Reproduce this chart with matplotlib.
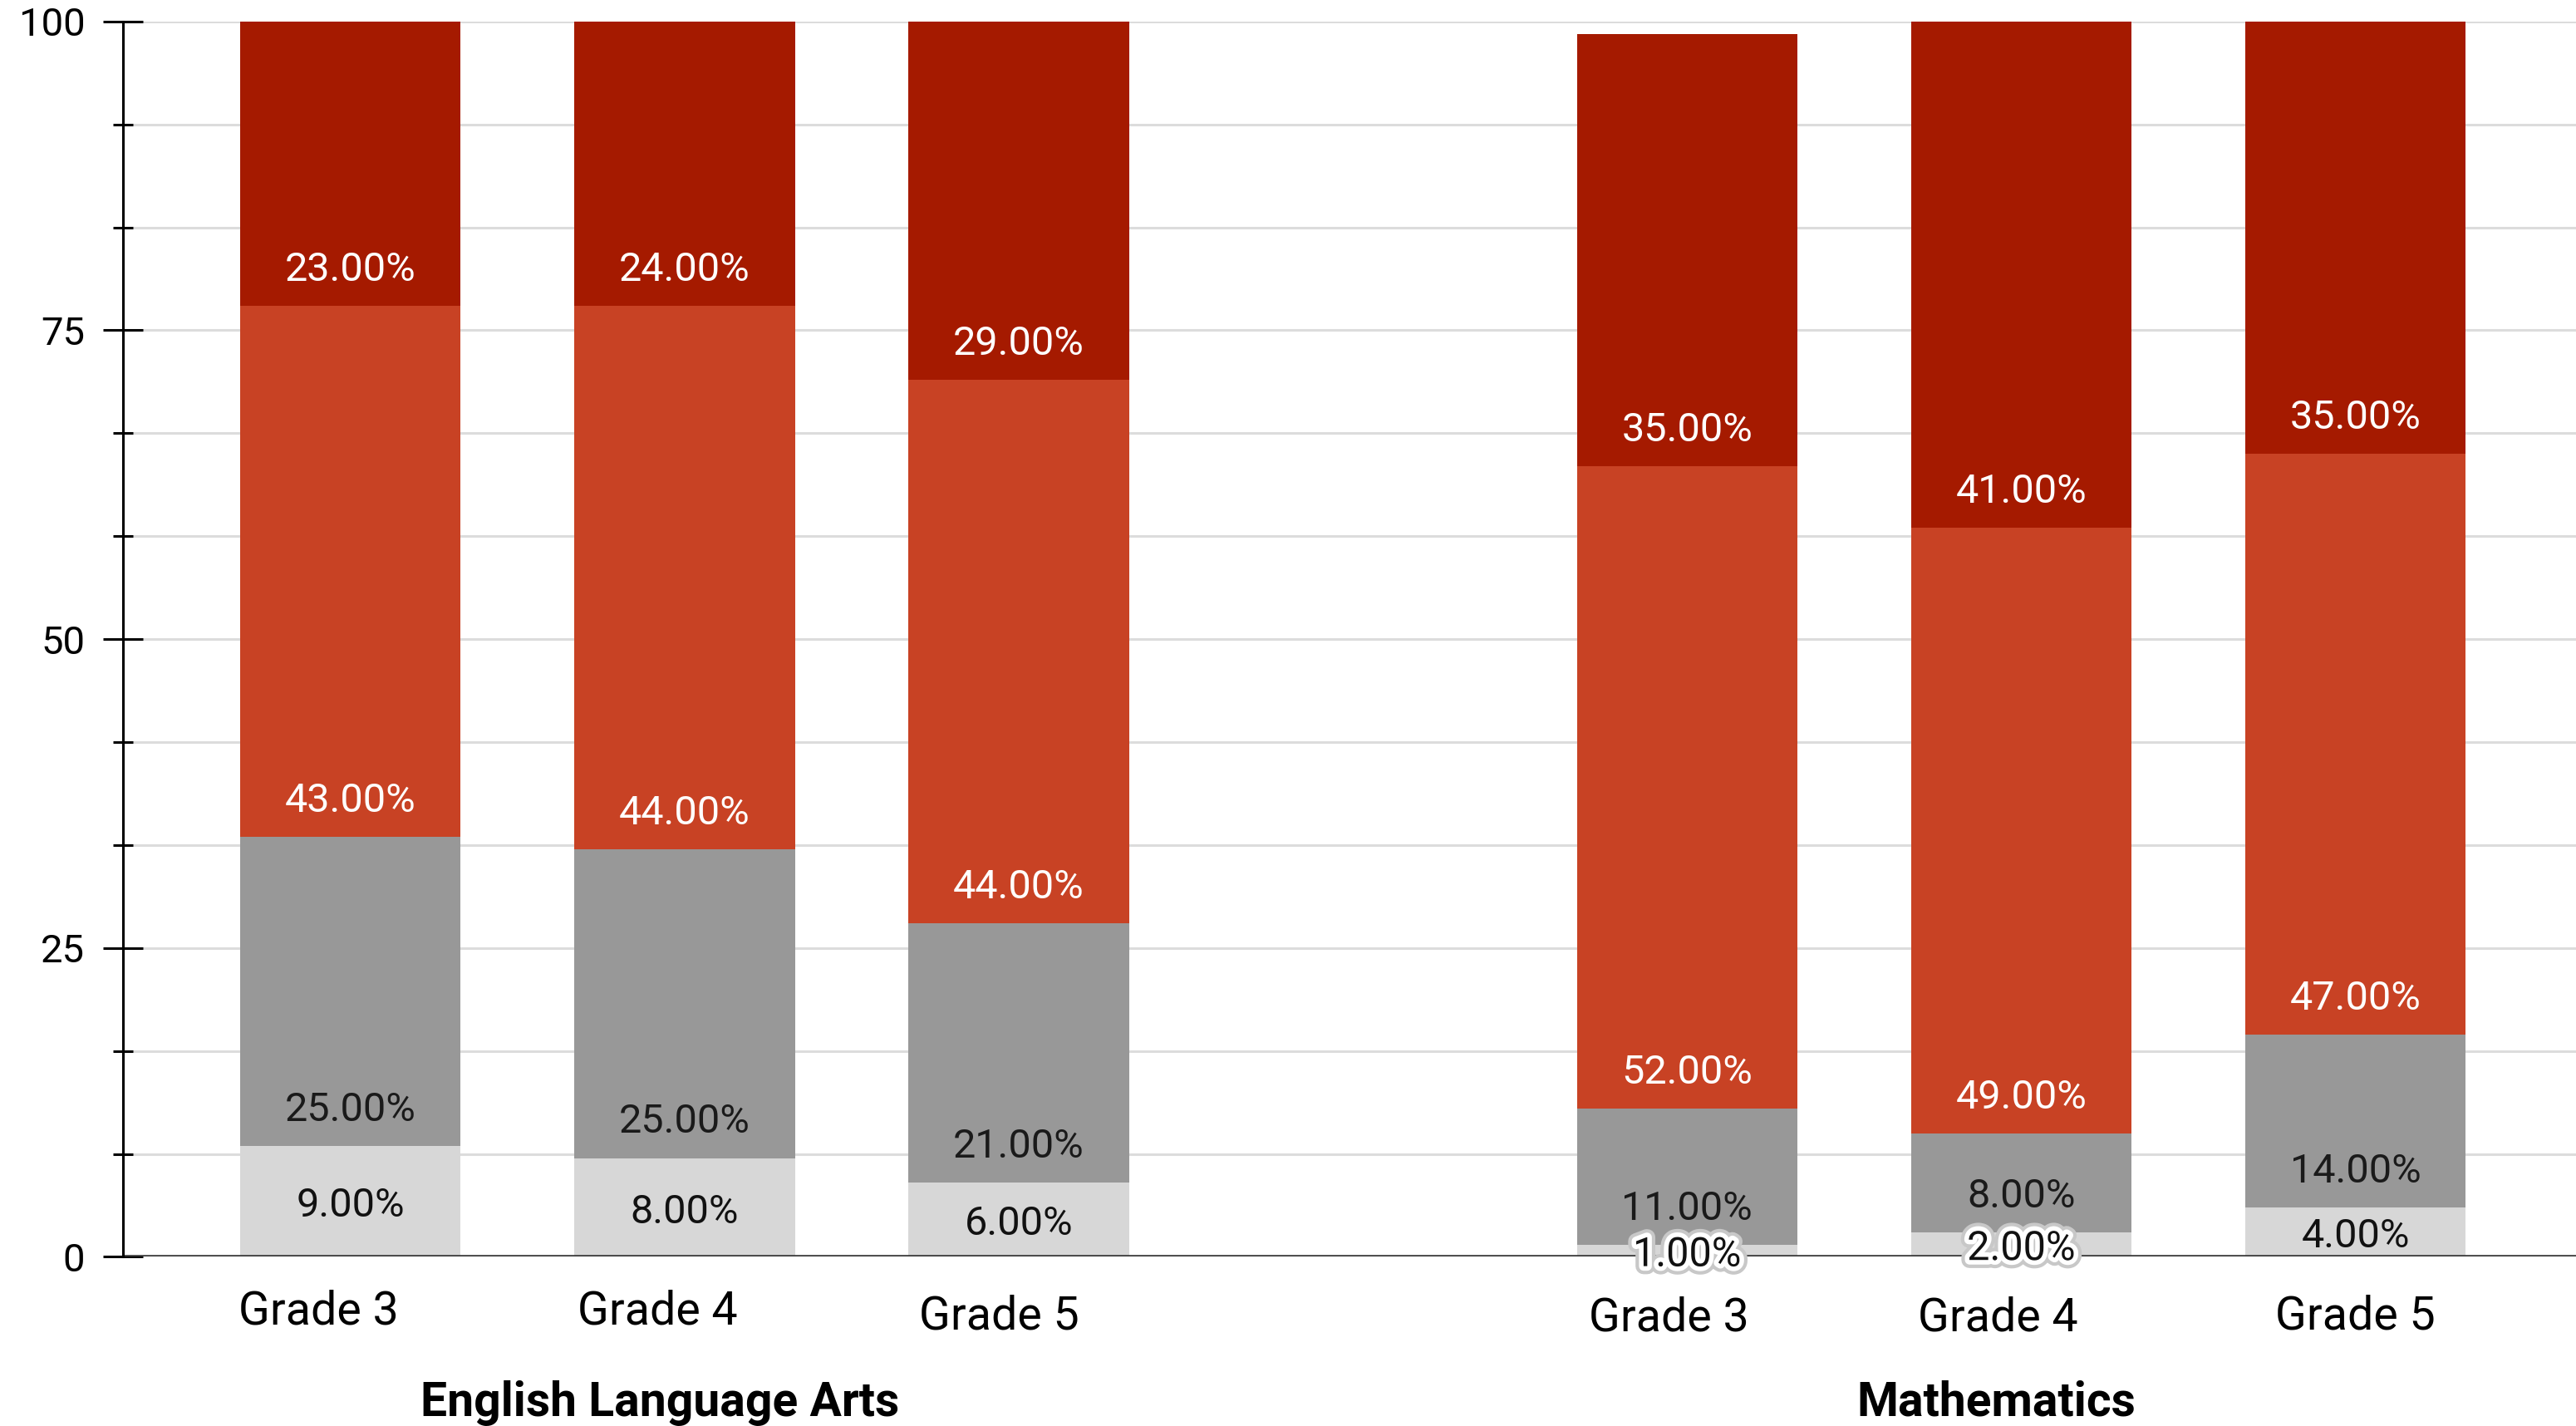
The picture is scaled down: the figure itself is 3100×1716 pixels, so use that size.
import matplotlib
matplotlib.use("Agg")
import matplotlib.pyplot as plt
import matplotlib.patheffects as pe
from matplotlib.transforms import ScaledTranslation
import numpy as np

plt.rcParams['font.family'] = ['Roboto', 'DejaVu Sans']

# ---- data ----
groups = ["English Language Arts", "Mathematics"]
grades = ["Grade 3", "Grade 4", "Grade 5", "Grade 3", "Grade 4", "Grade 5"]
group_of_bar = [0, 0, 0, 1, 1, 1]
positions = [0, 1, 2, 4, 5, 6]
level1 = [9, 8, 6, 1, 2, 4]        # lightest grey
level2 = [25, 25, 21, 11, 8, 14]   # grey
level3 = [43, 44, 44, 52, 49, 47]  # orange-red
level4 = [23, 24, 29, 35, 41, 35]  # dark red
series = [level1, level2, level3, level4]
colors = ["#d7d7d7", "#989898", "#c84224", "#a51a00"]
text_colors = ["#111111", "#1a1a1a", "white", "white"]
yticks_major = [0, 25, 50, 75, 100]

fig = plt.figure(figsize=(15.5, 8.58), dpi=200)
ax = fig.add_axes([0.0478, 0.1186, 0.9522, 0.8664])

ax.set_xlim(-0.68, 6.66)
ax.set_ylim(0, 100)

# grid
minor = np.linspace(0, 100, 13)
for y in minor:
    ax.axhline(y, color="#dcdcdc", lw=1.1, zorder=0)

bottoms = np.zeros(len(positions))
width = 0.66
for si, vals in enumerate(series):
    vals = np.array(vals, dtype=float)
    ax.bar(positions, vals, width=width, bottom=bottoms, color=colors[si],
           edgecolor="none", zorder=2)
    for i, (x, v, b) in enumerate(zip(positions, vals, bottoms)):
        label = f"{v:.2f}%"
        if si == 0:
            kw = dict(xy=(x, b + v / 2), xytext=(0, -2))
        else:
            kw = dict(xy=(x, b), xytext=(0, 15.5))
        effects = None
        if si == 0 and v < 3:
            effects = [pe.withStroke(linewidth=7, foreground="#c8c8c8"),
                       pe.withStroke(linewidth=4, foreground="white")]
        t = ax.annotate(label, textcoords="offset points", ha="center",
                        va="center", fontsize=17.5, color=text_colors[si],
                        zorder=5, annotation_clip=False, **kw)
        if effects:
            t.set_path_effects(effects)
    bottoms = bottoms + vals

# bottom line
ax.axhline(0, color="#3a3a3a", lw=1.3, zorder=4)

# spines
for s in ["top", "right", "bottom"]:
    ax.spines[s].set_visible(False)
ax.spines["left"].set_linewidth(1.1)
ax.spines["left"].set_zorder(6)

ax.set_yticks(yticks_major)
ax.set_yticks(minor, minor=True)
ax.tick_params(axis="y", which="major", direction="inout", length=17,
               width=1.1, labelsize=17, pad=8)
ax.tick_params(axis="y", which="minor", direction="inout", length=8.6,
               width=1.1)
ax.set_yticklabels([str(v) for v in yticks_major])

ax.set_xticks(positions)
ax.set_xticklabels(grades, fontsize=20)
ax.tick_params(axis="x", length=0, pad=14)
dxs = [-38, -32, -24, -22, -28, 0]
dys = [0, 0, -6, -8, -8, -6]
for lab, dx, dy in zip(ax.get_xticklabels(), dxs, dys):
    lab.set_transform(lab.get_transform() +
                      ScaledTranslation(dx / 200, dy / 200, fig.dpi_scale_trans))

# group labels
for gi, g in enumerate(groups):
    xs = [p for p, gb in zip(positions, group_of_bar) if gb == gi]
    xc = np.mean(xs)
    t = ax.text(xc, 0, g, ha="center", va="center", fontsize=20.5,
                fontweight="bold",
                transform=ax.get_xaxis_transform())
    t.set_transform(ax.get_xaxis_transform() +
                    ScaledTranslation(-30 / 200, -176 / 200, fig.dpi_scale_trans))

fig.savefig("out.png", dpi=200)
